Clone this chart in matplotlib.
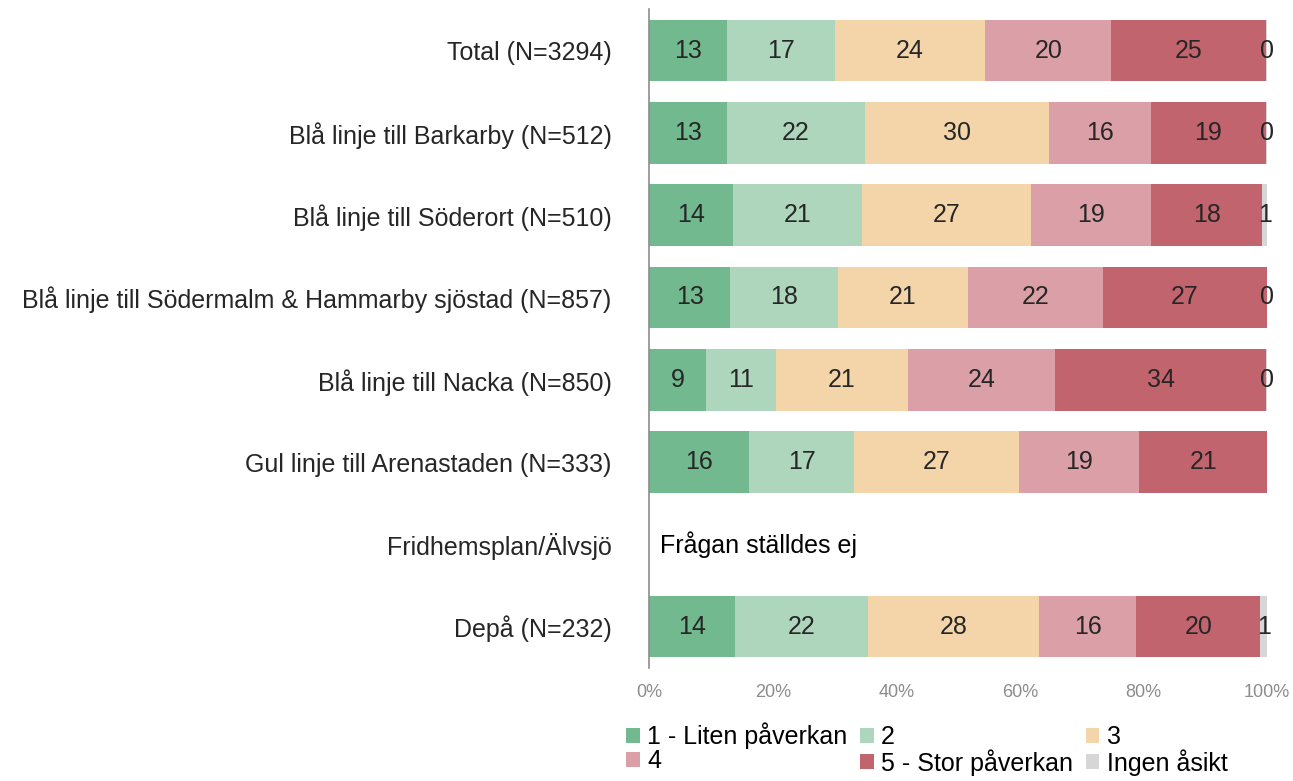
import matplotlib
matplotlib.use("Agg")
import matplotlib.pyplot as plt
import numpy as np

plt.rcParams["font.family"] = ["Liberation Sans", "DejaVu Sans"]

# ---------------- data ----------------
categories = [
    "Total (N=3294)",
    "Blå linje till Barkarby (N=512)",
    "Blå linje till Söderort (N=510)",
    "Blå linje till Södermalm & Hammarby sjöstad (N=857)",
    "Blå linje till Nacka (N=850)",
    "Gul linje till Arenastaden (N=333)",
    "Fridhemsplan/Älvsjö",
    "Depå (N=232)",
]
series_names = ["1 - Liten påverkan", "2", "3", "4", "5 - Stor påverkan", "Ingen åsikt"]

s1 = [12.6, 12.6, 13.6, 13.1, 9.2, 16.2, np.nan, 13.9]
s2 = [17.4, 22.3, 20.9, 17.5, 11.3, 17.0, np.nan, 21.5]
s3 = [24.4, 29.8, 27.3, 21.0, 21.4, 26.7, np.nan, 27.7]
s4 = [20.4, 16.5, 19.4, 21.8, 23.8, 19.4, np.nan, 15.7]
s5 = [25.0, 18.6, 18.0, 26.6, 34.1, 20.7, np.nan, 20.1]
s6 = [0.2, 0.2, 0.8, 0.2, 0.2, np.nan, np.nan, 1.1]

xticks = [0, 20, 40, 60, 80, 100]
no_question_text = "Frågan ställdes ej"

colors = ["#72B98F", "#AED6BC", "#F3D5A9", "#DBA0A7", "#C1646D", "#D6D6D6"]

# ---------------- plot ----------------
fig = plt.figure(figsize=(12.93, 7.81), dpi=100)
ax = fig.add_axes([0.502, 0.145, 0.478, 0.843])

y = np.arange(len(categories))
left = np.zeros(len(categories))
containers = []
for vals, name, col in zip([s1, s2, s3, s4, s5, s6], series_names, colors):
    v = np.array(vals, dtype=float)
    bars = ax.barh(y, np.nan_to_num(v), left=left, height=0.75, color=col,
                   label=name, edgecolor="none")
    labels = ["" if np.isnan(x) else f"{x:.0f}" for x in v]
    ax.bar_label(bars, labels=labels, label_type="center", fontsize=18,
                 color="#262626")
    left += np.nan_to_num(v)
    containers.append(bars)

ax.text(1.8, 6, no_question_text, va="center", ha="left", fontsize=18,
        color="#000000")

ax.set_ylim(len(categories) - 0.5, -0.5)
ax.set_xlim(0, 100)
ax.set_yticks(y)
ax.set_yticklabels(categories, fontsize=18, color="#262626")
ax.set_xticks(xticks)
ax.set_xticklabels([f"{t}%" for t in xticks], fontsize=13, color="#8C8C8C")
ax.tick_params(axis="both", length=0)
ax.tick_params(axis="y", pad=27)
ax.tick_params(axis="x", pad=12)
for sp in ["top", "right", "bottom"]:
    ax.spines[sp].set_visible(False)
ax.spines["left"].set_color("#8C8C8C")
ax.spines["left"].set_linewidth(1.2)

# legend filled row by row
order = [0, 3, 1, 4, 2, 5]
handles = [containers[i] for i in order]
names = [series_names[i] for i in order]
fig.legend(handles, names, ncol=3, loc="upper left",
           bbox_to_anchor=(0.484, 0.075), frameon=False, fontsize=18,
           handlelength=0.55, handleheight=0.55, handletextpad=0.3,
           columnspacing=0.5, labelspacing=0.0, borderpad=0,
           borderaxespad=0, labelcolor="#000000")

plt.savefig("out.png", dpi=100)
